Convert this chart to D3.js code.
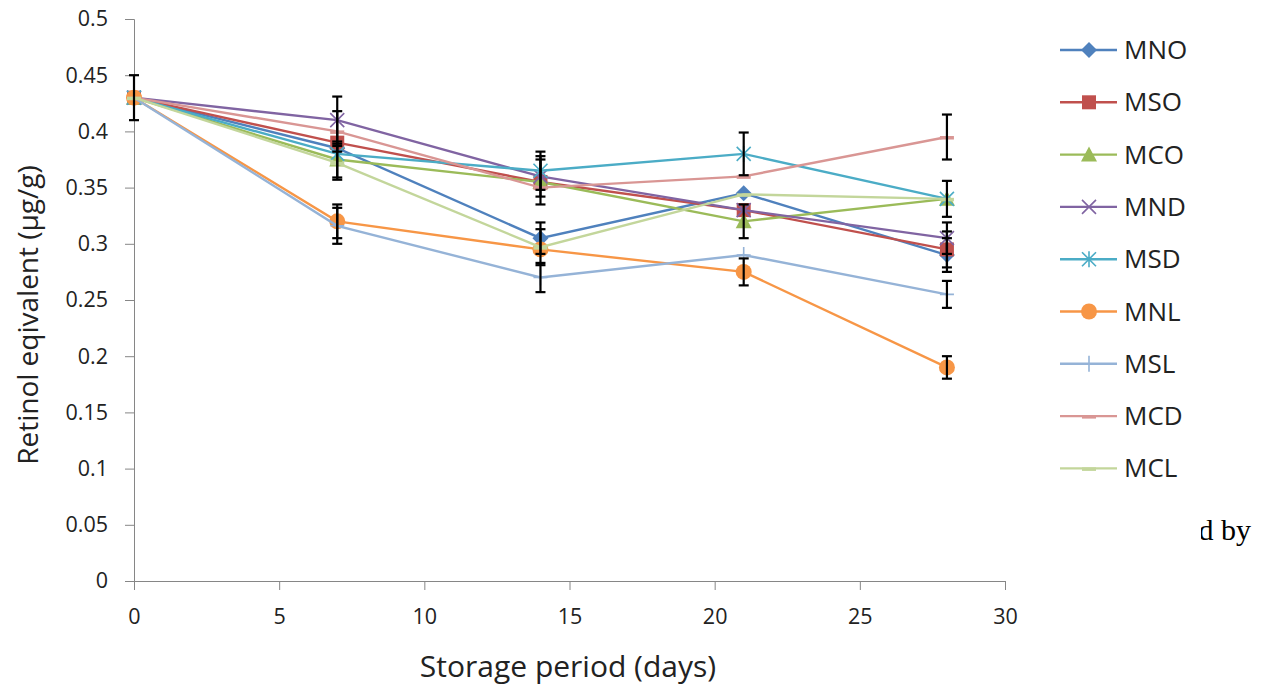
<!DOCTYPE html>
<html>
<head>
<meta charset="utf-8">
<script src="https://cdn.jsdelivr.net/npm/d3@7"></script>
<style>
  body { margin: 0; background: #fff; }
  text { font-family: "Open Sans", "Noto Sans", sans-serif; fill: #222; }
</style>
</head>
<body>
<div class="chart"></div>
<script>
// storage days
const days = [0, 7, 14, 21, 28];
const seriesNames = ["MNO", "MSO", "MCO", "MND", "MSD", "MNL", "MSL", "MCD", "MCL"];

const MNO = [0.43, 0.385, 0.305, 0.345, 0.29];
const MSO = [0.43, 0.39, 0.355, 0.33, 0.295];
const MCO = [0.43, 0.375, 0.355, 0.32, 0.34];
const MND = [0.43, 0.41, 0.36, 0.33, 0.305];
const MSD = [0.43, 0.38, 0.365, 0.38, 0.34];
const MNL = [0.43, 0.32, 0.295, 0.275, 0.19];
const MSL = [0.43, 0.316, 0.27, 0.29, 0.255];
const MCD = [0.43, 0.40, 0.35, 0.36, 0.395];
const MCL = [0.43, 0.372, 0.297, 0.344, 0.34];

// standard errors (0 = no bar drawn)
const errMNO = [0, 0, 0.014, 0, 0.015];
const errMSO = [0, 0, 0, 0, 0.016];
const errMCO = [0, 0.016, 0.02, 0.015, 0];
const errMND = [0, 0.021, 0.018, 0, 0.014];
const errMSD = [0, 0, 0.017, 0.019, 0.016];
const errMNL = [0, 0.015, 0, 0.012, 0.01];
const errMSL = [0, 0.016, 0.013, 0, 0.012];
const errMCD = [0, 0.018, 0, 0, 0.02];
const errMCL = [0.02, 0.015, 0.016, 0, 0];

const xTicks = [0, 5, 10, 15, 20, 25, 30];
const yTicks = [0, 0.05, 0.1, 0.15, 0.2, 0.25, 0.3, 0.35, 0.4, 0.45, 0.5];

const values = [MNO, MSO, MCO, MND, MSD, MNL, MSL, MCD, MCL];
const errors = [errMNO, errMSO, errMCO, errMND, errMSD, errMNL, errMSL, errMCD, errMCL];
const colors = ["#4F81BD", "#C0504D", "#9BBB59", "#8064A2", "#4BACC6", "#F79646", "#95B3D7", "#D99694", "#C3D69B"];
const shapes = ["diamond", "square", "triangle", "x", "star", "circle", "plus", "dash", "dash"];

const W = 1263, H = 685;
const svg = d3.select(".chart").append("svg").attr("width", W).attr("height", H);

const x = d3.scaleLinear().domain([0, 30]).range([134, 1005]);
const y = d3.scaleLinear().domain([0, 0.5]).range([581, 19]);

// axes
const xAxis = svg.append("g")
  .attr("transform", "translate(0," + y(0) + ")")
  .call(d3.axisBottom(x).tickValues(xTicks).tickSize(9).tickPadding(19).tickFormat(d3.format("d")));
const yAxis = svg.append("g")
  .attr("transform", "translate(" + x(0) + ",0)")
  .call(d3.axisLeft(y).tickValues(yTicks).tickSize(9).tickPadding(17).tickFormat(d => d === 0 ? "0" : String(d)));
[xAxis, yAxis].forEach(g => {
  g.selectAll("path, line").attr("stroke", "#868686").attr("stroke-width", 1);
  g.selectAll("text").attr("font-size", 21.5).attr("fill", "#222")
    .style("font-family", "'Open Sans', sans-serif");
});

svg.append("text").attr("x", 568).attr("y", 677).attr("text-anchor", "middle")
  .attr("font-size", 30).text("Storage period (days)");
svg.append("text").attr("transform", "translate(38,315) rotate(-90)").attr("text-anchor", "middle")
  .attr("font-size", 28).text("Retinol eqivalent (µg/g)");

function marker(g, shape, color, cx, cy) {
  const s = 7;
  if (shape === "diamond") {
    g.append("path").attr("d", `M${cx},${cy - s - 1}L${cx + s + 1},${cy}L${cx},${cy + s + 1}L${cx - s - 1},${cy}Z`).attr("fill", color);
  } else if (shape === "square") {
    g.append("rect").attr("x", cx - s).attr("y", cy - s).attr("width", 2 * s).attr("height", 2 * s).attr("fill", color);
  } else if (shape === "triangle") {
    g.append("path").attr("d", `M${cx},${cy - s - 1}L${cx + s + 1},${cy + s}L${cx - s - 1},${cy + s}Z`).attr("fill", color);
  } else if (shape === "circle") {
    g.append("circle").attr("cx", cx).attr("cy", cy).attr("r", s + 1).attr("fill", color);
  } else if (shape === "x") {
    g.append("path").attr("d", `M${cx - s},${cy - s}L${cx + s},${cy + s}M${cx - s},${cy + s}L${cx + s},${cy - s}`)
      .attr("stroke", color).attr("stroke-width", 1.6);
  } else if (shape === "star") {
    g.append("path").attr("d", `M${cx - s},${cy - s}L${cx + s},${cy + s}M${cx - s},${cy + s}L${cx + s},${cy - s}M${cx},${cy - s - 1}L${cx},${cy + s + 1}`)
      .attr("stroke", color).attr("stroke-width", 1.6);
  } else if (shape === "plus") {
    g.append("path").attr("d", `M${cx - s},${cy}L${cx + s},${cy}M${cx},${cy - s - 1}L${cx},${cy + s + 1}`)
      .attr("stroke", color).attr("stroke-width", 1.6);
  } else if (shape === "dash") {
    g.append("rect").attr("x", cx - s).attr("y", cy - 1).attr("width", 2 * s).attr("height", 3.5).attr("fill", color);
  }
}

const line = d3.line().x(d => x(d[0])).y(d => y(d[1]));

// lines + markers
values.forEach((vals, i) => {
  const g = svg.append("g");
  const pts = days.map((d, j) => [d, vals[j]]);
  g.append("path").datum(pts).attr("d", line).attr("fill", "none")
    .attr("stroke", colors[i]).attr("stroke-width", 2.4);
  pts.forEach(p => marker(g, shapes[i], colors[i], x(p[0]), y(p[1])));
});

// error bars drawn on top
const eg = svg.append("g").attr("stroke", "#000").attr("stroke-width", 2.2);
values.forEach((vals, i) => {
  days.forEach((d, j) => {
    const e = errors[i][j];
    if (!e) return;
    const cx = x(d), y1 = y(vals[j] + e), y2 = y(vals[j] - e);
    eg.append("line").attr("x1", cx).attr("x2", cx).attr("y1", y1).attr("y2", y2);
    eg.append("line").attr("x1", cx - 5).attr("x2", cx + 5).attr("y1", y1).attr("y2", y1);
    eg.append("line").attr("x1", cx - 5).attr("x2", cx + 5).attr("y1", y2).attr("y2", y2);
  });
});

// legend
const leg = svg.append("g");
seriesNames.forEach((name, i) => {
  const ly = 50 + i * 52.3;
  leg.append("line").attr("x1", 1060).attr("x2", 1117).attr("y1", ly).attr("y2", ly)
    .attr("stroke", colors[i]).attr("stroke-width", 2.4);
  marker(leg, shapes[i], colors[i], 1089, ly);
  leg.append("text").attr("x", 1124).attr("y", ly + 9).attr("font-size", 26).text(name);
});

// clipped fragment of surrounding page text
svg.append("clipPath").attr("id", "clipby").append("rect")
  .attr("x", 1201).attr("y", 500).attr("width", 62).attr("height", 60);
svg.append("text").attr("x", 1251).attr("y", 540).attr("text-anchor", "end")
  .attr("clip-path", "url(#clipby)")
  .style("font-family", "'Liberation Serif', serif").attr("font-size", 30).style("fill", "#000").text("ed by");
</script>
</body>
</html>
